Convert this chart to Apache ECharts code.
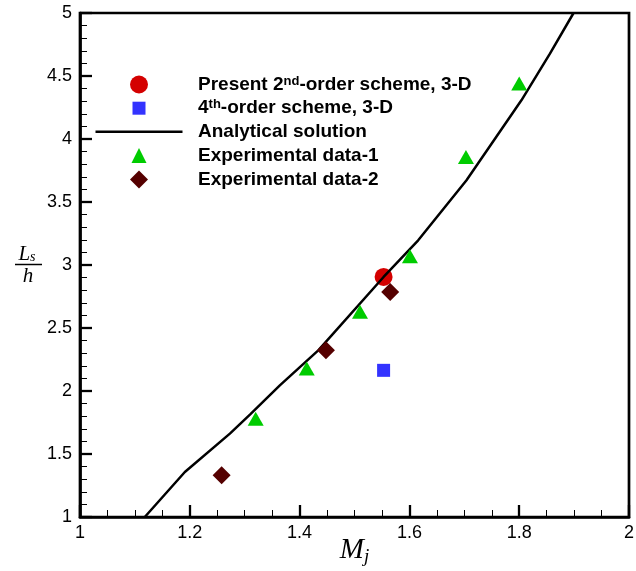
<!DOCTYPE html>
<html><head><meta charset="utf-8">
<script src="https://cdn.jsdelivr.net/npm/echarts@6/dist/echarts.min.js"></script>
<style>html,body{margin:0;padding:0;background:#fff}#c{width:636px;height:571px}</style>
</head><body><div id="c"></div>
<script>
// ---- data ----
const seriesNames = ['Present 2nd-order scheme, 3-D', '4th-order scheme, 3-D', 'Analytical solution', 'Experimental data-1', 'Experimental data-2'];
const present2ndX = [1.553];
const present2ndY = [2.905];
const fourthX = [1.553];
const fourthY = [2.164];
const analyticalX = [1.118, 1.191, 1.273, 1.31, 1.364, 1.434, 1.553, 1.616, 1.704, 1.804, 1.856, 1.899];
const analyticalY = [1.0, 1.357, 1.662, 1.815, 2.045, 2.323, 2.905, 3.196, 3.672, 4.307, 4.678, 5.0];
const exp1X = [1.32, 1.413, 1.51, 1.601, 1.703, 1.80];
const exp1Y = [1.78, 2.178, 2.628, 3.07, 3.857, 4.44];
const exp2X = [1.258, 1.448, 1.565];
const exp2Y = [1.331, 2.323, 2.786];

const zip = (xs, ys) => xs.map((x, i) => [x, ys[i]]);

// ---- styles ----
const SANS = 'Arial, Liberation Sans';
const SERIF = 'Liberation Serif, DejaVu Serif';
const legendFont = { fontFamily: SANS, fontWeight: 'bold', fontSize: 19, color: '#000', lineHeight: 20 };
const rich = {
  b: Object.assign({}, legendFont),
  sup: { fontFamily: SANS, fontWeight: 'bold', fontSize: 13, color: '#000', lineHeight: 10, verticalAlign: 'top' }
};
const legendText = {
  'Present 2nd-order scheme, 3-D': '{b|Present 2}{sup|nd}{b|-order scheme, 3-D}',
  '4th-order scheme, 3-D': '{b|4}{sup|th}{b|-order scheme, 3-D}',
  'Analytical solution': '{b|Analytical solution}',
  'Experimental data-1': '{b|Experimental data-1}',
  'Experimental data-2': '{b|Experimental data-2}'
};
const rowY = [84.5, 108.2, 131.8, 155.5, 179.5];
const iconW = [18, 13, 87, 15, 18];
const iconH = [18, 13, 2.5, 15, 18];
const iconCenterX = 139, textX = 198;

const legends = seriesNames.map((n, i) => {
  const w = iconW[i], h = iconH[i];
  const left = iconCenterX - w / 2;
  const pad = textX - (left + w + 5);
  const item = { name: n };
  if (i === 2) { item.icon = 'rect'; item.itemStyle = { color: '#000', borderWidth: 0 }; }
  return {
    data: [item], left: left, top: rowY[i] - 10, padding: 0, itemWidth: w, itemHeight: h,
    selectedMode: false, itemGap: 0,
    formatter: (name) => legendText[name],
    textStyle: Object.assign({}, legendFont, { padding: [0, 0, 0, pad], rich: rich })
  };
});

const chart = echarts.init(document.getElementById('c'), null, { renderer: 'canvas' });
const axisLabelStyle = { fontFamily: SANS, fontSize: 18, color: '#000' };
chart.setOption({
  animation: false,
  backgroundColor: '#fff',
  grid: { left: 80, right: 7, top: 13, bottom: 54, containLabel: false, outerBoundsMode: 'none',
          show: true, borderColor: '#000', borderWidth: 2.7, backgroundColor: 'transparent' },
  legend: legends,
  graphic: [
    { type: 'text', x: 27, y: 254, style: { text: '{L|L}{s|s}', align: 'center', verticalAlign: 'middle',
      rich: { L: { fontFamily: SERIF, fontStyle: 'italic', fontSize: 21, color: '#000', lineHeight: 20 },
              s: { fontFamily: SERIF, fontStyle: 'italic', fontSize: 14, color: '#000', lineHeight: 12, verticalAlign: 'bottom' } } } },
    { type: 'line', shape: { x1: 15, y1: 264.5, x2: 42, y2: 264.5 }, style: { stroke: '#000', lineWidth: 1.5 } },
    { type: 'text', x: 28, y: 276, style: { text: 'h', align: 'center', verticalAlign: 'middle',
      fontFamily: SERIF, fontStyle: 'italic', fontSize: 21, fill: '#000' } }
  ],
  xAxis: {
    type: 'value', min: 1, max: 2, interval: 0.2,
    name: '{m|M}{j|j}', nameLocation: 'middle', nameGap: 17, nameMoveOverlap: false,
    nameTextStyle: { rich: {
      m: { fontFamily: SERIF, fontStyle: 'italic', fontSize: 29, color: '#000', lineHeight: 32 },
      j: { fontFamily: SERIF, fontStyle: 'italic', fontSize: 19, color: '#000', lineHeight: 14, verticalAlign: 'bottom' } } },
    axisLine: { show: true, onZero: false, lineStyle: { color: '#000', width: 2.7 } },
    axisTick: { show: true, inside: true, length: 12, lineStyle: { color: '#000', width: 2.3 } },
    minorTick: { show: true, splitNumber: 4, length: 7, lineStyle: { color: '#000', width: 1 } },
    axisLabel: Object.assign({ margin: 7, showMinLabel: true, showMaxLabel: true, hideOverlap: false }, axisLabelStyle),
    splitLine: { show: false }, minorSplitLine: { show: false }
  },
  yAxis: {
    type: 'value', min: 1, max: 5, interval: 0.5,
    axisLine: { show: true, onZero: false, lineStyle: { color: '#000', width: 2.7 } },
    axisTick: { show: true, inside: true, length: 12, lineStyle: { color: '#000', width: 2.3 } },
    minorTick: { show: true, splitNumber: 5, length: 7, lineStyle: { color: '#000', width: 1 } },
    axisLabel: Object.assign({ margin: 8, showMinLabel: true, showMaxLabel: true, hideOverlap: false }, axisLabelStyle),
    splitLine: { show: false }, minorSplitLine: { show: false }
  },
  series: [
    { name: seriesNames[0], type: 'scatter', data: zip(present2ndX, present2ndY), symbol: 'circle', symbolSize: 18,
      itemStyle: { color: '#d40000', opacity: 1 }, z: 2 },
    { name: seriesNames[1], type: 'scatter', data: zip(fourthX, fourthY), symbol: 'rect', symbolSize: 13,
      itemStyle: { color: '#3333ff', opacity: 1 }, z: 2 },
    { name: seriesNames[2], type: 'line', data: zip(analyticalX, analyticalY), symbol: 'none', showSymbol: false,
      smooth: false, lineStyle: { color: '#000', width: 2.5 }, itemStyle: { color: '#000' }, z: 3 },
    { name: seriesNames[3], type: 'scatter', data: zip(exp1X, exp1Y), symbol: 'triangle', symbolSize: [16, 14],
      itemStyle: { color: '#00cc00', opacity: 1 }, z: 4 },
    { name: seriesNames[4], type: 'scatter', data: zip(exp2X, exp2Y), symbol: 'diamond', symbolSize: 18,
      itemStyle: { color: '#550000', opacity: 1 }, z: 5 }
  ]
});
</script></body></html>
